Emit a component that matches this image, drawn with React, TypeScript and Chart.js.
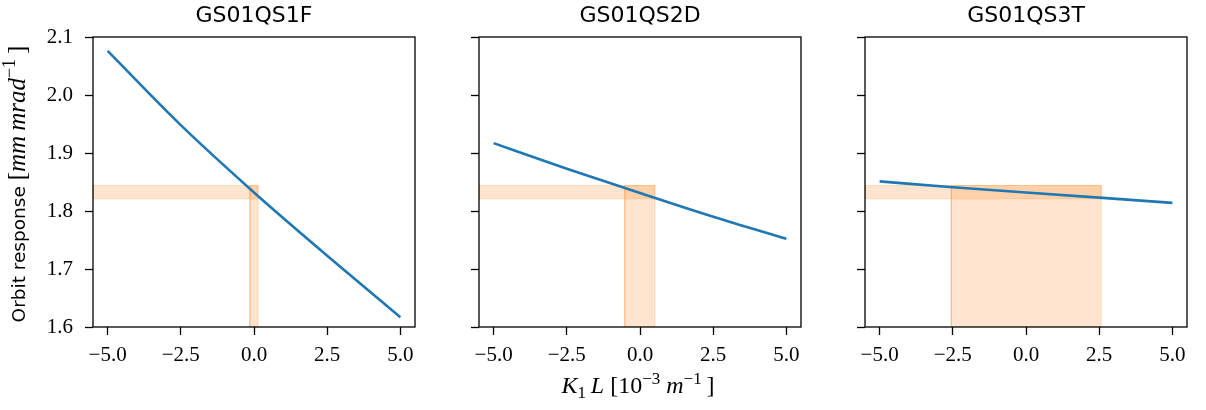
import React, { useEffect, useRef } from "react";
import { Chart, registerables } from "chart.js";

Chart.register(...registerables);

// ---------- data ----------
const panelTitles = ["GS01QS1F", "GS01QS2D", "GS01QS3T"];
const k1l = [-5, -2.5, 0, 2.5, 5];
const respQS1F = [2.076, 1.948, 1.832, 1.723, 1.617];
const respQS2D = [1.917, 1.873, 1.831, 1.79, 1.752];
const respQS3T = [1.851, 1.841, 1.832, 1.823, 1.814];
const responses = [respQS1F, respQS2D, respQS3T];
const bandYLo = 1.821;
const bandYHi = 1.844;
const bandXLo = [-0.14, -0.52, -2.55];
const bandXHi = [0.14, 0.51, 2.57];
const xTicks = [-5, -2.5, 0, 2.5, 5];
const yTicks = [1.6, 1.7, 1.8, 1.9, 2.0, 2.1];
const xMin = -5.5;
const xMax = 5.5;
const yMin = 1.6;
const yMax = 2.1;

// ---------- layout ----------
const H = 410;
const PAD_TOP = 37;
const X_AXIS_H = 83;
const panels = [
  { left: 0, width: 430, yW: 93, padR: 15 },
  { left: 430, width: 386, yW: 49, padR: 15 },
  { left: 816, width: 390, yW: 49, padR: 19 },
];

const BLUE = "#1f77b4";
const ORANGE_FILL = "rgba(255,127,14,0.2)";
const ORANGE_EDGE = "rgba(255,127,14,0.22)";
const TICK_FONT = { family: "'Liberation Serif', serif", size: 21 };

const fmt = (v: number) => (v < 0 ? "\u2212" : "") + Math.abs(v).toFixed(1);

type Seg = { t: string; f: string; dy?: number };
function drawRich(ctx: CanvasRenderingContext2D, segs: Seg[], cx: number, cy: number) {
  let total = 0;
  const ws = segs.map((s) => {
    ctx.font = s.f;
    const w = ctx.measureText(s.t).width;
    total += w;
    return w;
  });
  let x = cx - total / 2;
  ctx.textAlign = "left";
  ctx.textBaseline = "alphabetic";
  segs.forEach((s, i) => {
    ctx.font = s.f;
    ctx.fillText(s.t, x, cy + (s.dy || 0));
    x += ws[i];
  });
}

const SERIF = "'Liberation Serif', serif";
const SANS = "'DejaVu Sans', sans-serif";

const yLabelSegs: Seg[] = [
  { t: "Orbit response ", f: `18.5px ${SANS}` },
  { t: "[", f: `25px ${SERIF}` },
  { t: "mm\u2009mrad", f: `italic 25px ${SERIF}` },
  { t: "\u22121", f: `18px ${SERIF}`, dy: -10 },
  { t: "\u2009]", f: `25px ${SERIF}` },
];

const xLabelSegs: Seg[] = [
  { t: "K", f: `italic 24px ${SERIF}` },
  { t: "1", f: `17px ${SERIF}`, dy: 5 },
  { t: "\u2009L", f: `italic 24px ${SERIF}` },
  { t: " [10", f: `24px ${SERIF}` },
  { t: "\u22123", f: `17px ${SERIF}`, dy: -9 },
  { t: " ", f: `24px ${SERIF}` },
  { t: "m", f: `italic 24px ${SERIF}` },
  { t: "\u22121", f: `17px ${SERIF}`, dy: -9 },
  { t: "\u2009]", f: `24px ${SERIF}` },
];

function makeConfig(i: number): any {
  const p = panels[i];
  const hBand = [
    { x: xMin, y: bandYLo },
    { x: bandXHi[i], y: bandYLo },
    { x: bandXHi[i], y: bandYHi },
    { x: xMin, y: bandYHi },
    { x: xMin, y: bandYLo },
  ];
  const vBand = [
    { x: bandXLo[i], y: yMin },
    { x: bandXHi[i], y: yMin },
    { x: bandXHi[i], y: bandYHi },
    { x: bandXLo[i], y: bandYHi },
    { x: bandXLo[i], y: yMin },
  ];
  const line = k1l.map((x, j) => ({ x, y: responses[i][j] }));

  const overlay = {
    id: "overlay" + i,
    afterDraw(chart: any) {
      const ctx: CanvasRenderingContext2D = chart.ctx;
      const { left, top, right, bottom } = chart.chartArea;
      ctx.save();
      ctx.strokeStyle = "#000";
      ctx.lineWidth = 1.3;
      ctx.strokeRect(left, top, right - left, bottom - top);
      ctx.fillStyle = "#000";
      ctx.font = `22px ${SANS}`;
      ctx.textAlign = "center";
      ctx.textBaseline = "alphabetic";
      ctx.fillText(panelTitles[i], (left + right) / 2, 22);
      if (i === 0) {
        ctx.save();
        ctx.translate(25, (top + bottom) / 2 + 2);
        ctx.rotate(-Math.PI / 2);
        drawRich(ctx, yLabelSegs, 0, 0);
        ctx.restore();
      }
      if (i === 1) {
        drawRich(ctx, xLabelSegs, (left + right) / 2 - 2, 393);
      }
      ctx.restore();
    },
  };

  return {
    type: "scatter",
    data: {
      datasets: [
        {
          data: line,
          showLine: true,
          fill: false,
          borderColor: BLUE,
          borderWidth: 2.6,
          pointRadius: 0,
          cubicInterpolationMode: "monotone",
          tension: 0.4,
        },
        {
          data: hBand,
          showLine: true,
          fill: "shape",
          backgroundColor: ORANGE_FILL,
          borderColor: ORANGE_EDGE,
          borderWidth: 1,
          pointRadius: 0,
        },
        {
          data: vBand,
          showLine: true,
          fill: "shape",
          backgroundColor: ORANGE_FILL,
          borderColor: ORANGE_EDGE,
          borderWidth: 1,
          pointRadius: 0,
        },
      ],
    },
    options: {
      responsive: false,
      animation: false,
      devicePixelRatio: 1,
      layout: { padding: { top: PAD_TOP, right: p.padR, left: 0, bottom: 0 } },
      plugins: { legend: { display: false }, tooltip: { enabled: false }, title: { display: false } },
      events: [],
      scales: {
        x: {
          type: "linear",
          min: xMin,
          max: xMax,
          afterBuildTicks: (s: any) => {
            s.ticks = xTicks.map((v) => ({ value: v }));
          },
          afterFit: (s: any) => {
            s.height = X_AXIS_H;
            s.paddingLeft = 0;
            s.paddingRight = 0;
            s.paddingTop = 0;
            s.paddingBottom = 0;
          },
          ticks: {
            callback: (v: number) => fmt(v),
            font: TICK_FONT,
            color: "#000",
            padding: 8,
            maxRotation: 0,
            autoSkip: false,
          },
          grid: { drawOnChartArea: false, drawTicks: true, tickLength: 8, tickWidth: 1.3, tickColor: "#000" },
          border: { display: false },
        },
        y: {
          type: "linear",
          min: yMin,
          max: yMax,
          afterBuildTicks: (s: any) => {
            s.ticks = yTicks.map((v) => ({ value: v }));
          },
          afterFit: (s: any) => {
            s.width = p.yW;
            s.paddingLeft = 0;
            s.paddingRight = 0;
            s.paddingTop = 0;
            s.paddingBottom = 0;
          },
          ticks: {
            callback: (v: number) => fmt(v),
            font: TICK_FONT,
            color: i === 0 ? "#000" : "rgba(0,0,0,0)",
            padding: 12,
            autoSkip: false,
          },
          grid: { drawOnChartArea: false, drawTicks: true, tickLength: 8, tickWidth: 1.3, tickColor: "#000" },
          border: { display: false },
        },
      },
    },
    plugins: [overlay],
  };
}

function Panel({ i }: { i: number }) {
  const ref = useRef<HTMLCanvasElement | null>(null);
  useEffect(() => {
    if (!ref.current) return;
    const chart = new Chart(ref.current, makeConfig(i));
    return () => chart.destroy();
  }, [i]);
  const p = panels[i];
  return (
    <canvas
      ref={ref}
      width={p.width}
      height={H}
      style={{ position: "absolute", left: p.left, top: 0, width: p.width, height: H }}
    />
  );
}

export default function App() {
  return (
    <div style={{ position: "absolute", left: 0, top: 0, width: 1206, height: H, background: "#fff" }}>
      {panels.map((_, i) => (
        <Panel key={i} i={i} />
      ))}
    </div>
  );
}
